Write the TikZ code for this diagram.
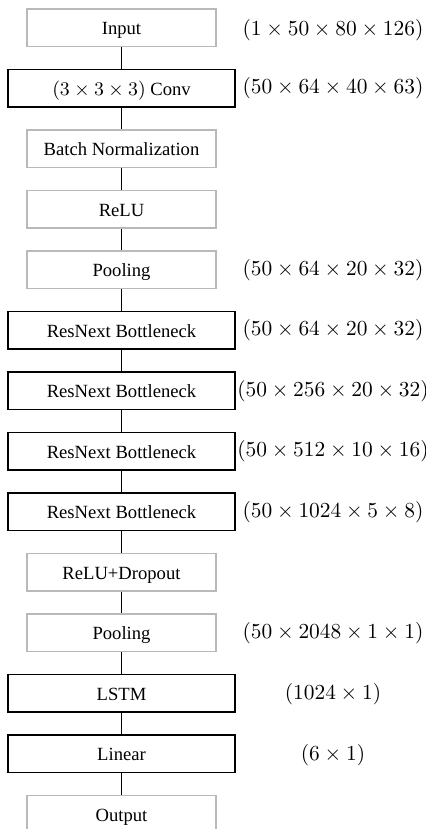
\documentclass[tikz,border=0pt]{standalone}
\usepackage{fontspec}
\setmainfont{Liberation Serif}
\begin{document}
\begin{tikzpicture}[x=0.4673pt, y=-0.4673pt,
  layer/.style={draw=gray!55, line width=0.5pt, minimum width=88.3pt, minimum height=17.5pt,
    inner sep=0pt, text height=6.4pt, text depth=0pt, font=\fontsize{8.7}{10}\selectfont},
  mainlayer/.style={layer, draw=black, line width=0.5pt, minimum width=106.1pt},
  shape label/.style={inner sep=0pt, anchor=center},
  link/.style={draw=black, line width=0.45pt}]
\useasboundingbox (0,0) rectangle (425,829);
\clip (0,0) rectangle (425,829);

% layer boxes, one row every 60.5 px
\node[layer]     (in)    at (121.5, 27.75) {Input};
\node[mainlayer] (conv)  at (121.5, 88.25) {$(3\times3\times3)$ Conv};
\node[layer]     (bn)    at (121.5,148.75) {Batch Normalization};
\node[layer]     (relu)  at (121.5,209.25) {ReLU};
\node[layer]     (pool1) at (121.5,269.75) {Pooling};
\node[mainlayer] (rn1)   at (121.5,330.25) {ResNext Bottleneck};
\node[mainlayer] (rn2)   at (121.5,390.75) {ResNext Bottleneck};
\node[mainlayer] (rn3)   at (121.5,451.25) {ResNext Bottleneck};
\node[mainlayer] (rn4)   at (121.5,511.75) {ResNext Bottleneck};
\node[layer]     (drop)  at (121.5,572.25) {ReLU+Dropout};
\node[layer]     (pool2) at (121.5,632.75) {Pooling};
\node[mainlayer] (lstm)  at (121.5,693.25) {LSTM};
\node[mainlayer] (lin)   at (121.5,753.75) {Linear};
\node[layer]     (out)   at (121.5,814.25) {Output};

% connectors
\foreach \a/\b in {in/conv, conv/bn, bn/relu, relu/pool1, pool1/rn1, rn1/rn2,
                   rn2/rn3, rn3/rn4, rn4/drop, drop/pool2, pool2/lstm, lstm/lin, lin/out}
  \draw[link] (\a.south) -- (\b.north);

% tensor shapes
\node[shape label] (s0)  at (333, 30)     {$(1\times50\times80\times126)$};
\node[shape label] (s1)  at (333, 88.25)  {$(50\times64\times40\times63)$};
\node[shape label] (s4)  at (333,269.75)  {$(50\times64\times20\times32)$};
\node[shape label] (s5)  at (333,330.25)  {$(50\times64\times20\times32)$};
\node[shape label] (s6)  at (333,390.75)  {$(50\times256\times20\times32)$};
\node[shape label] (s7)  at (333,451.25)  {$(50\times512\times10\times16)$};
\node[shape label] (s8)  at (333,511.75)  {$(50\times1024\times5\times8)$};
\node[shape label] (s10) at (333,632.75)  {$(50\times2048\times1\times1)$};
\node[shape label] (s11) at (333,694.5)   {$(1024\times1)$};
\node[shape label] (s12) at (333,755)     {$(6\times1)$};
\end{tikzpicture}
\end{document}
